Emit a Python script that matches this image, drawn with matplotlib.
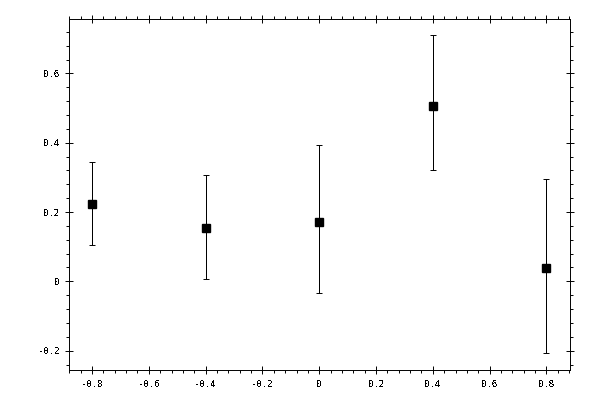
import matplotlib
matplotlib.use('Agg')
import matplotlib.pyplot as plt
from matplotlib.ticker import MultipleLocator, FuncFormatter

# values
x_vals = [-0.8, -0.4, 0.0, 0.4, 0.8]
y_vals = [0.223, 0.153, 0.170, 0.505, 0.038]
err_low = [0.119, 0.147, 0.205, 0.185, 0.246]
err_high = [0.120, 0.154, 0.222, 0.206, 0.256]

plt.rcParams['axes.unicode_minus'] = False
plt.rcParams['font.family'] = 'DejaVu Sans Mono'
plt.rcParams['text.antialiased'] = False

fig = plt.figure(figsize=(6, 4), dpi=100)
ax = fig.add_axes([0.1155, 0.074, 0.8345, 0.8785])

ax.errorbar(x_vals, y_vals, yerr=[err_low, err_high], fmt='s', color='black',
            markersize=5.5, elinewidth=0.7, capsize=2, capthick=0.7,
            ecolor='black', antialiased=False)

ax.set_xlim(-0.88, 0.883)
ax.set_ylim(-0.257, 0.757)

ax.xaxis.set_major_locator(MultipleLocator(0.2))
ax.xaxis.set_minor_locator(MultipleLocator(0.04))
ax.yaxis.set_major_locator(MultipleLocator(0.2))
ax.yaxis.set_minor_locator(MultipleLocator(0.04))

fmt = FuncFormatter(lambda v, pos: '%g' % round(v, 3) if abs(v) > 1e-9 else '0')
ax.xaxis.set_major_formatter(fmt)
ax.yaxis.set_major_formatter(fmt)

ax.tick_params(which='major', direction='inout', length=5.5, width=0.7,
               top=True, right=True, labelsize=6.5, pad=4)
ax.tick_params(which='minor', direction='out', length=2.3, width=0.7,
               top=True, right=True)

for s in ax.spines.values():
    s.set_linewidth(0.7)

fig.savefig('out.png', dpi=100)
